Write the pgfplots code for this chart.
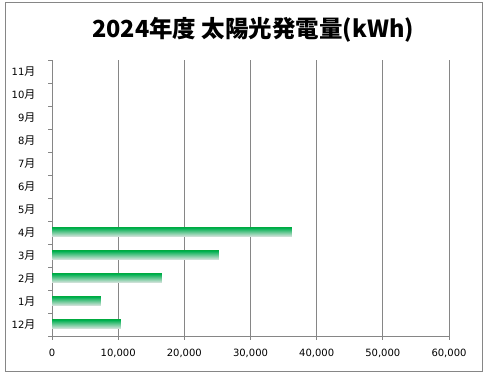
\documentclass[border=0pt]{standalone}
\usepackage{fontspec}
\setmainfont{DejaVu Sans}
\newfontfamily\cjk{Noto Sans CJK JP}
\usepackage{pgfplots}
\pgfplotsset{compat=1.18}
\definecolor{barG}{RGB}{0,176,80}
\definecolor{barM}{RGB}{150,215,165}
\definecolor{barL}{RGB}{228,230,230}
\definecolor{gridG}{RGB}{134,134,134}
\newcommand{\mo}[1]{#1{\cjk\fontsize{11}{12}\selectfont 月}}
\pgfplotsset{gbar/.style={draw=none, bar shift=0pt, top color=barG, middle color=barM, bottom color=barL}}
\begin{document}
\begin{tikzpicture}
\path[use as bounding box] (0pt,0pt) rectangle (487pt,374pt);
\draw[gridG, line width=0.8pt] (5pt,3pt) rectangle (482pt,372pt);
\node[font=\cjk\bfseries\fontsize{23.5}{26}\selectfont] at (253pt,344pt) {2024年度 太陽光発電量(kWh)};
\begin{axis}[at={(52pt,38pt)}, anchor=south west, scale only axis,
  width=397pt, height=276pt,
  xbar, bar width=9pt,
  xmin=0, xmax=60000, ymin=-0.5, ymax=11.5,
  xtick={0,10000,20000,30000,40000,50000,60000}, scaled x ticks=false,
  /pgf/number format/1000 sep={,},
  /pgf/number format/assume math mode=true,
  ytick={0,...,11},
  yticklabels={\mo{12},\mo{1},\mo{2},\mo{3},\mo{4},\mo{5},\mo{6},\mo{7},\mo{8},\mo{9},\mo{10},\mo{11}},
  minor ytick={-0.5,0.5,...,11.5},
  every major y tick/.style={draw=none},
  major tick length=4pt, minor tick length=4pt,
  tick align=outside, tick pos=left,
  axis x line*=bottom, axis y line*=left,
  axis line style={gridG, line width=0.8pt},
  tick style={gridG, line width=0.8pt},
  xmajorgrids, grid style={gridG, line width=0.8pt},
  tick label style={font=\fontsize{10}{12}\selectfont, black},
  yticklabel style={xshift=-9pt},
  xticklabel style={yshift=-6pt},
]
\addplot[gbar] coordinates {(10400,0)};
\addplot[gbar] coordinates {(7370,1)};
\addplot[gbar] coordinates {(16600,2)};
\addplot[gbar] coordinates {(25220,3)};
\addplot[gbar] coordinates {(36260,4)};
\end{axis}
\end{tikzpicture}
\end{document}
